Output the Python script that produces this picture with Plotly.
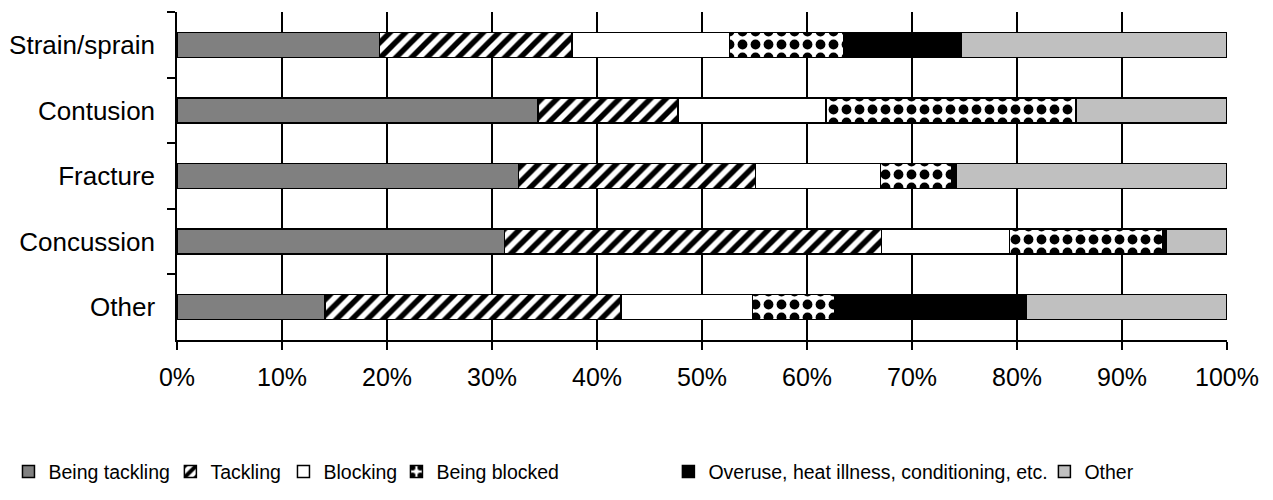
import plotly.graph_objects as go

categories = ["Strain/sprain", "Contusion", "Fracture", "Concussion", "Other"]
series_names = ["Being tackling", "Tackling", "Blocking", "Being blocked",
                "Overuse, heat illness, conditioning, etc.", "Other"]
being_tackling = [19.3, 34.4, 32.5, 31.2, 14.1]
tackling = [18.3, 13.3, 22.6, 35.9, 28.2]
blocking = [15.0, 14.1, 11.9, 12.2, 12.5]
being_blocked = [10.9, 23.8, 6.8, 14.6, 7.8]
overuse = [11.2, 0.0, 0.4, 0.3, 18.3]
other = [25.3, 14.4, 25.8, 5.8, 19.1]
x_ticks = [0, 10, 20, 30, 40, 50, 60, 70, 80, 90, 100]
x_labels = [f"{v}%" for v in x_ticks]

values = [being_tackling, tackling, blocking, being_blocked, overuse, other]
styles = [
    dict(color="#808080"),
    dict(color="white", pattern=dict(shape="/", fgcolor="black", bgcolor="white",
                                     fgopacity=1, size=11, solidity=0.5)),
    dict(color="white"),
    dict(color="white", pattern=dict(shape=".", fgcolor="black", bgcolor="white",
                                     fgopacity=1, size=13, solidity=0.45)),
    dict(color="black"),
    dict(color="#c0c0c0"),
]
# one legend per entry so entries sit where the reference places them
legend_x = [-0.1605, -0.0063, 0.1014, 0.2090, 0.4680, 0.8261]
legend_ids = ["legend", "legend2", "legend3", "legend4", "legend5", "legend6"]

fig = go.Figure()
for name, vals, st, lid in zip(series_names, values, styles, legend_ids):
    marker = dict(color=st["color"], line=dict(color="black", width=1.5))
    if "pattern" in st:
        marker["pattern"] = st["pattern"]
    fig.add_trace(go.Bar(y=categories, x=vals, name=name, orientation="h",
                         marker=marker, legend=lid))

legend_layout = {}
for lid, lx in zip(legend_ids, legend_x):
    legend_layout[lid] = dict(orientation="h", x=lx, xanchor="left", y=-0.402,
                              yanchor="middle", font=dict(size=19.5),
                              bgcolor="rgba(0,0,0,0)")

fig.update_layout(
    barmode="stack",
    bargap=0.62,
    width=1257, height=484,
    margin=dict(l=169, r=38, t=4, b=152, autoexpand=False),
    plot_bgcolor="white", paper_bgcolor="white",
    font=dict(family="Liberation Sans, Arial, sans-serif", size=25, color="black"),
    showlegend=True,
    **legend_layout,
)
fig.update_xaxes(range=[0, 100], tickvals=x_ticks, ticktext=x_labels,
                 tickfont=dict(size=25), automargin=False,
                 showgrid=True, gridcolor="black", gridwidth=1.5,
                 showline=True, linecolor="black", linewidth=1.5,
                 ticks="outside", ticklen=8, tickwidth=1.5, tickcolor="black",
                 ticklabelstandoff=6, zeroline=False)
fig.update_yaxes(autorange="reversed", categoryorder="array", categoryarray=categories,
                 tickfont=dict(size=26), automargin=False,
                 showline=True, linecolor="black", linewidth=1.5,
                 ticks="outside", tickson="boundaries", ticklen=8, tickwidth=1.5, tickcolor="black",
                 ticklabelstandoff=15, showgrid=False)

fig.write_html("out.html")
